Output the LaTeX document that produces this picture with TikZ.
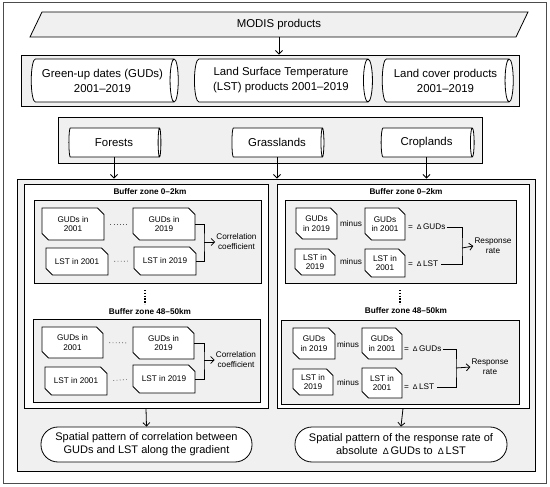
\documentclass[tikz,border=0pt]{standalone}
\usepackage{fontspec}
\setmainfont{Liberation Sans}
\usetikzlibrary{shapes.geometric,shapes.misc,arrows.meta}
\newcommand{\dlt}{{\fontsize{7}{8}\selectfont Δ}}
\begin{document}
\begin{tikzpicture}[x=1pt,y=-1pt,
  arr/.style={-{Straight Barb[length=3.5pt,width=7pt]}, line width=0.8pt},
  ln/.style={line width=0.8pt},
  grybox/.style={draw, fill=gray!12, line width=0.9pt, inner sep=0},
  whbox/.style={draw, fill=white, line width=1pt, inner sep=0},
  cyl/.style={cylinder, draw, fill=white, line width=0.8pt, aspect=0.35, align=center, inner sep=0, font=\fontsize{11.4}{15}\selectfont},
  card/.style={chamfered rectangle, chamfered rectangle corners={north east,south west}, chamfered rectangle xsep=3pt, draw, fill=white, line width=0.8pt, align=center, inner sep=0, font=\fontsize{8.2}{9.5}\selectfont},
  sm/.style={font=\fontsize{8.2}{10}\selectfont, align=center, inner sep=1pt},
  bz/.style={font=\bfseries\fontsize{8.2}{10}\selectfont, inner sep=0},
  big/.style={draw, fill=white, rounded corners=17pt, line width=0.8pt, align=center, inner sep=0, font=\fontsize{11}{13}\selectfont},
  dots/.style={line width=0.8pt, gray!70!black, dash pattern=on 0.8pt off 2.4pt},
  dotsv/.style={line width=1.4pt, dash pattern=on 1.4pt off 1.4pt},
]
\useasboundingbox (0,0) rectangle (550,487);
\draw[gray!60!black, line width=0.9pt] (3,2) rectangle (546,483);

% MODIS
\filldraw[fill=gray!12, line width=0.8pt] (42,12) -- (528,12) -- (516,37) -- (30,37) -- cycle;
\node[font=\fontsize{11.4}{14}\selectfont, inner sep=0] (modis) at (279,24.5) {MODIS products};
\coordinate (modisb) at (279,37);

% row 2
\node[grybox, minimum width=498, minimum height=51] (row2) at (270,80.5) {};
\node[cyl, minimum height=147, minimum width=43] (gud) at (102.5,80.5) {Green-up dates (GUDs)\\2001--2019};
\node[cyl, minimum height=178, minimum width=43] (lstp) at (281,80.5) {Land Surface Temperature\\(LST) products 2001--2019};
\node[cyl, minimum height=131, minimum width=43] (lc) at (445.5,80.5) {Land cover products\\2001--2019};
\draw[arr] (modisb) -- (modisb |- row2.north);

% row 3
\node[grybox, minimum width=424, minimum height=46] (row3) at (270,140) {};
\node[cyl, minimum height=92, minimum width=29] (for) at (114,142.5) {Forests};
\node[cyl, minimum height=92, minimum width=29] (gra) at (277,142.5) {Grasslands};
\node[cyl, minimum height=93, minimum width=29] (cro) at (426.5,142.5) {Croplands};

% big box
\node[grybox, minimum width=518, minimum height=292] (bigb) at (276,325) {};
\draw[arr] (for.south) -- (for.south |- bigb.north);
\draw[arr] (gra.south) -- (gra.south |- bigb.north);
\draw[arr] (cro.south) -- (cro.south |- bigb.north);

\node[whbox, minimum width=244, minimum height=223] (lp) at (146,296.5) {};
\node[whbox, minimum width=252, minimum height=223] (rp) at (403,296.5) {};

% ---------- left panel
\node[bz] (lbz1) at (150,192) {Buffer zone 0--2km};
\node[grybox, minimum width=227, minimum height=83] (lb1) at (147.5,241.5) {};
\node[card, minimum width=62, minimum height=32] (g01a) at (73,224) {GUDs in\\2001};
\node[card, minimum width=62, minimum height=32] (g19a) at (164,224) {GUDs in\\2019};
\node[card, minimum width=62, minimum height=27] (l01a) at (77,261.5) {LST in 2001};
\node[card, minimum width=62, minimum height=28] (l19a) at (165,261) {LST in 2019};
\draw[dots, shorten >=6pt, shorten <=6pt] (g01a.east) -- (g19a.west);
\draw[dots, shorten >=6pt, shorten <=6pt] (l01a.east) -- (l19a.west);
\node[sm] (corr1) at (236.5,242) {Correlation\\coefficient};
\coordinate (j1) at (204,242);
\draw[ln] (g19a.east) -| (j1) |- (l19a.east);
\draw[arr] (j1) -- (corr1.west);

\coordinate (ld1) at (145,290);
\coordinate (ld2) at (145,304);
\draw[dotsv] (ld1) -- (ld2);
\node[bz] (lbz2) at (150,312) {Buffer zone 48--50km};

\node[grybox, minimum width=227, minimum height=83] (lb2) at (146.5,360.5) {};
\node[card, minimum width=61, minimum height=31] (g01b) at (72.5,342.5) {GUDs in\\2001};
\node[card, minimum width=61, minimum height=32] (g19b) at (163.5,343) {GUDs in\\2019};
\node[card, minimum width=62, minimum height=28] (l01b) at (76,381) {LST in 2001};
\node[card, minimum width=62, minimum height=28] (l19b) at (164,379) {LST in 2019};
\draw[dots, shorten >=6pt, shorten <=6pt] (g01b.east) -- (g19b.west);
\draw[dots, shorten >=6pt, shorten <=6pt] (l01b.east) -- (l19b.west);
\node[sm] (corr2) at (236,360) {Correlation\\coefficient};
\coordinate (j2) at (204,360);
\draw[ln] (g19b.east) -| (j2) |- (l19b.east);
\draw[arr] (j2) -- (corr2.west);

% ---------- right panel
\node[bz] (rbz1) at (406,192) {Buffer zone 0--2km};
\node[grybox, minimum width=231, minimum height=83] (rb1) at (400.5,241.5) {};
\node[card, minimum width=41, minimum height=31] (rg19a) at (316.5,223.5) {GUDs\\in 2019};
\node[sm] (rm1) at (351,224) {minus};
\node[card, minimum width=40, minimum height=32] (rg01a) at (385,224) {GUDs\\in 2001};
\node[sm, anchor=west] (dg1) at (407,227) {=\hspace{4pt}\dlt\,GUDs};
\node[card, minimum width=40, minimum height=26] (rl19a) at (315,262) {LST in\\2019};
\node[sm] (rm2) at (351,262) {minus};
\node[card, minimum width=40, minimum height=28] (rl01a) at (385,263) {LST in\\2001};
\node[sm, anchor=west] (dl1) at (407,264) {=\hspace{4pt}\dlt\,LST\hspace{2pt}};
\node[sm] (rr1) at (493,246) {Response\\rate};
\coordinate (k1) at (462,248);
\draw[ln] (dg1.east) -| (k1) |- (dl1.east);
\draw[arr] (k1) -- (rr1.west);

\coordinate (rd1) at (400,290);
\coordinate (rd2) at (400,304);
\draw[dotsv] (rd1) -- (rd2);
\node[bz] (rbz2) at (406,311) {Buffer zone 48--50km};

\node[grybox, minimum width=238, minimum height=84] (rb2) at (400.5,362) {};
\node[card, minimum width=42, minimum height=31] (rg19b) at (314,343.5) {GUDs\\in 2019};
\node[sm] (rm3) at (348,345) {minus};
\node[card, minimum width=40, minimum height=31] (rg01b) at (382,343.5) {GUDs\\in 2001};
\node[sm, anchor=west] (dg2) at (403,349) {=\hspace{4pt}\dlt\,GUDs};
\node[card, minimum width=40, minimum height=26] (rl19b) at (313,382) {LST in\\2019};
\node[sm] (rm4) at (348,383) {minus};
\node[card, minimum width=40, minimum height=30] (rl01b) at (382,383) {LST in\\2001};
\node[sm, anchor=west] (dl2) at (403,387) {=\hspace{4pt}\dlt\,LST\hspace{2pt}};
\node[sm] (rr2) at (490,367) {Response\\rate};
\coordinate (k2) at (456,368);
\draw[ln] (dg2.east) -| (k2) |- (dl2.east);
\draw[arr] (k2) -- (rr2.west);

% final nodes
\node[big, minimum width=211, minimum height=35] (fl) at (146.5,444.5) {Spatial pattern of correlation between\\GUDs and LST along the gradient};
\node[big, minimum width=212, minimum height=35] (fr) at (401,444.5) {Spatial pattern of the response rate of\\absolute \hspace{2pt}{\fontsize{9}{10}\selectfont Δ}\,GUDs to \hspace{2pt}{\fontsize{9}{10}\selectfont Δ}\,LST};
\draw[arr] (lp.south) -- (fl.north);
\draw[arr] (rp.south) -- (fr.north);
\end{tikzpicture}
\end{document}
